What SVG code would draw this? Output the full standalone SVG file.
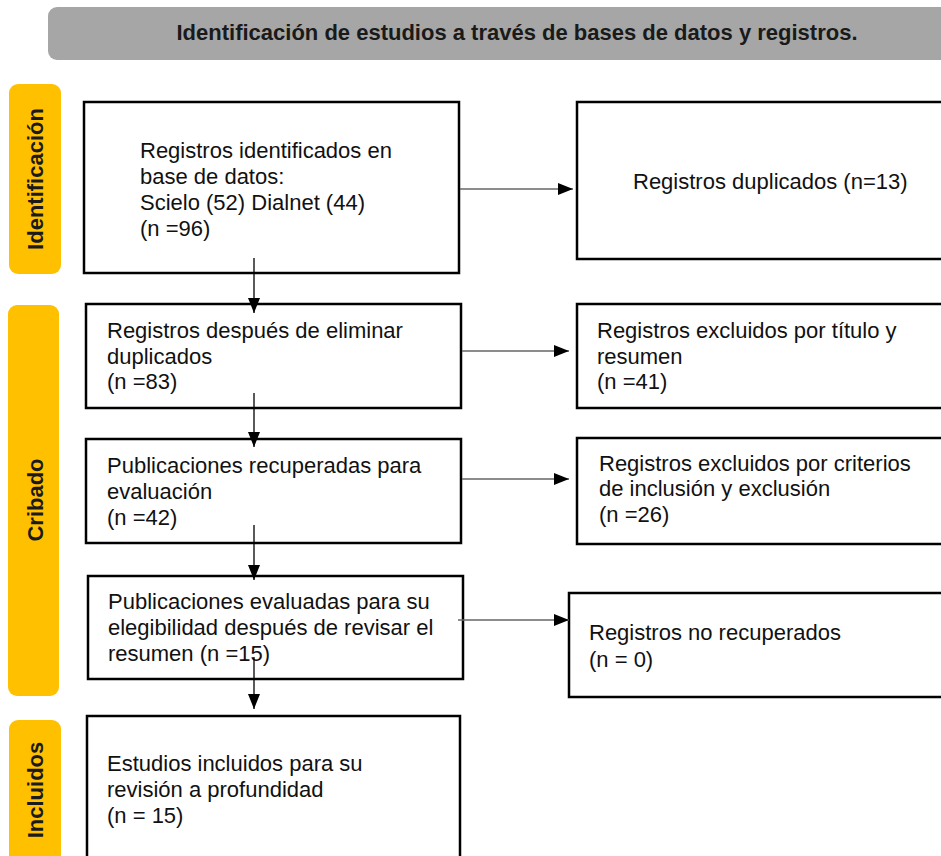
<svg xmlns="http://www.w3.org/2000/svg" width="941" height="856" viewBox="0 0 941 856">
<defs>
<style>
.box{fill:#fff;stroke:#000;stroke-width:2.5}
.band{fill:#FFC000}
.bt{font-family:"Liberation Sans",Arial,sans-serif;font-weight:bold;font-size:22px;fill:#1a1a1a;text-anchor:middle}
.t{font-family:"Liberation Sans",Arial,sans-serif;font-size:22px;fill:#111}
.h{stroke:#666;stroke-width:1.3;fill:none}
.v{stroke:#000;stroke-width:1.3;fill:none}
</style>
<marker id="ah" viewBox="0 0 15 12" refX="15" refY="6" markerWidth="15" markerHeight="12" markerUnits="userSpaceOnUse" orient="auto">
<path d="M0,0 L15,6 L0,12 Z" fill="#000"/>
</marker>
</defs>

<g id="header">
<rect x="48" y="7" width="910" height="53" rx="9" fill="#a6a6a6"/>
<text class="bt" x="517" y="40">Identificación de estudios a través de bases de datos y registros.</text>
</g>

<g id="band-identificacion">
<rect class="band" x="9" y="84" width="52" height="190" rx="9"/>
<text class="bt" transform="translate(43,179) rotate(-90)">Identificación</text>
</g>
<g id="band-cribado">
<rect class="band" x="8" y="305" width="51" height="391" rx="9"/>
<text class="bt" transform="translate(43,500) rotate(-90)">Cribado</text>
</g>
<g id="band-incluidos">
<rect class="band" x="9" y="720" width="52" height="160" rx="9"/>
<text class="bt" transform="translate(43,790) rotate(-90)">Incluidos</text>
</g>

<g id="n1">
<rect class="box" x="84" y="102" width="375" height="171"/>
<text class="t" x="140" y="157.5">Registros identificados en</text>
<text class="t" x="140" y="183.5">base de datos:</text>
<text class="t" x="140" y="209.5">Scielo (52) Dialnet (44)</text>
<text class="t" x="140" y="235.5">(n =96)</text>
</g>
<g id="n-duplicados">
<rect class="box" x="577" y="102" width="380" height="157"/>
<text class="t" x="633" y="189">Registros duplicados (n=13)</text>
</g>
<g id="n2">
<rect class="box" x="86" y="304" width="375" height="104"/>
<text class="t" x="107" y="338">Registros después de eliminar</text>
<text class="t" x="107" y="363.5">duplicados</text>
<text class="t" x="107" y="389">(n =83)</text>
</g>
<g id="n3">
<rect class="box" x="577" y="304" width="380" height="104"/>
<text class="t" x="597" y="338">Registros excluidos por título y</text>
<text class="t" x="597" y="363.5">resumen</text>
<text class="t" x="597" y="389">(n =41)</text>
</g>
<g id="n4">
<rect class="box" x="86" y="439" width="375" height="104"/>
<text class="t" x="107" y="473">Publicaciones recuperadas para</text>
<text class="t" x="107" y="499">evaluación</text>
<text class="t" x="107" y="525">(n =42)</text>
</g>
<g id="n5">
<rect class="box" x="577" y="438" width="380" height="106"/>
<text class="t" x="599" y="471">Registros excluidos por criterios</text>
<text class="t" x="599" y="496">de inclusión y exclusión</text>
<text class="t" x="599" y="522">(n =26)</text>
</g>
<g id="n6">
<rect class="box" x="88" y="576" width="375" height="103"/>
<text class="t" x="108" y="609">Publicaciones evaluadas para su</text>
<text class="t" x="108" y="635">elegibilidad después de revisar el</text>
<text class="t" x="108" y="661">resumen (n =15)</text>
</g>
<g id="n7">
<rect class="box" x="569" y="593" width="390" height="104"/>
<text class="t" x="589" y="640">Registros no recuperados</text>
<text class="t" x="589" y="667">(n = 0)</text>
</g>
<g id="n8">
<rect class="box" x="87" y="716" width="373" height="160"/>
<text class="t" x="107" y="771">Estudios incluidos para su</text>
<text class="t" x="107" y="797">revisión a profundidad</text>
<text class="t" x="107" y="823">(n = 15)</text>
</g>

<g id="connectors">
<line class="h" x1="460" y1="189" x2="573" y2="189" marker-end="url(#ah)"/>
<line class="h" x1="462" y1="351" x2="569" y2="351" marker-end="url(#ah)"/>
<line class="h" x1="462" y1="479" x2="569" y2="479" marker-end="url(#ah)"/>
<line class="h" x1="458" y1="620" x2="569" y2="620" marker-end="url(#ah)"/>
<line class="v" x1="254" y1="258" x2="254" y2="313" marker-end="url(#ah)"/>
<line class="v" x1="254" y1="393" x2="254" y2="447" marker-end="url(#ah)"/>
<line class="v" x1="254" y1="525" x2="254" y2="580" marker-end="url(#ah)"/>
<line class="v" x1="254" y1="657" x2="254" y2="709" marker-end="url(#ah)"/>
</g>
</svg>
